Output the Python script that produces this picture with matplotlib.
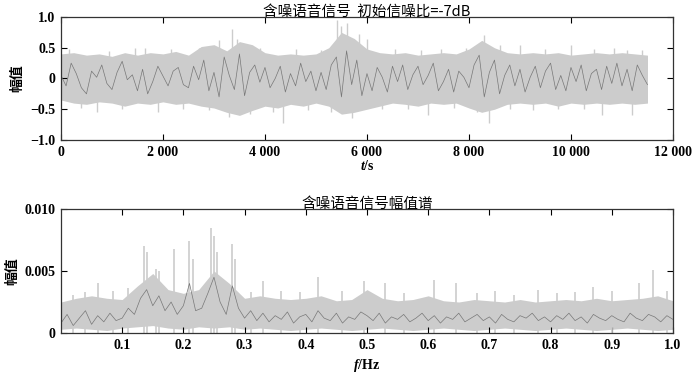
import numpy as np
import matplotlib
matplotlib.use("Agg")
import matplotlib.pyplot as plt

plt.rcParams['font.family'] = ['Liberation Serif', 'Noto Sans CJK SC', 'DejaVu Sans']
plt.rcParams['mathtext.fontset'] = 'custom'
plt.rcParams['mathtext.it'] = 'Liberation Serif:italic:bold'

# ---- top: noisy speech signal (envelope read every 250 samples) ----
t_env = np.arange(0, 11501, 250)
sig_hi = [0.40, 0.42, 0.38, 0.40, 0.36, 0.42, 0.38, 0.42, 0.40, 0.44,
          0.38, 0.52, 0.55, 0.45, 0.60, 0.55, 0.42, 0.38, 0.40, 0.38,
          0.40, 0.50, 0.75, 0.65, 0.48, 0.42, 0.40, 0.42, 0.38, 0.40,
          0.42, 0.40, 0.48, 0.62, 0.50, 0.42, 0.40, 0.42, 0.40, 0.42,
          0.38, 0.40, 0.42, 0.40, 0.42, 0.40, 0.38]
sig_lo = [-0.35, -0.40, -0.42, -0.38, -0.40, -0.45, -0.40, -0.42, -0.38, -0.42,
          -0.40, -0.45, -0.48, -0.55, -0.60, -0.52, -0.45, -0.48, -0.42, -0.45,
          -0.40, -0.45, -0.58, -0.55, -0.50, -0.45, -0.40, -0.42, -0.45, -0.40,
          -0.42, -0.40, -0.48, -0.55, -0.50, -0.42, -0.40, -0.42, -0.40, -0.45,
          -0.40, -0.42, -0.40, -0.42, -0.40, -0.42, -0.40]
# single peaks sticking out of the band
spike_t = [150, 400, 700, 950, 1200, 1450, 1650, 1900, 2150, 2400, 2700, 2900,
           3100, 3300, 3350, 3450, 3700, 3900, 4150, 4350, 4600, 4850, 5100, 5300,
           5420, 5500, 5600, 5700, 5850, 6000, 6300, 6550, 6800, 7050, 7200, 7450,
           7700, 7950, 8150, 8300, 8400, 8600, 8800, 9000, 9250, 9500, 9750, 10000,
           10250, 10450, 10600, 10850, 11100, 11200, 11400]
spike_v = [0.48, -0.48, -0.55, 0.45, -0.50, 0.50, 0.50, -0.55, 0.48, -0.50, 0.50, -0.52,
           0.62, -0.62, 0.80, 0.65, -0.58, 0.50, -0.55, -0.72, 0.48, -0.52, 0.46, -0.55,
           0.95, 0.85, 0.90, -0.65, 0.72, 0.65, -0.50, 0.48, -0.50, 0.46, -0.60, 0.48,
           -0.48, 0.50, -0.55, 0.70, -0.72, 0.55, -0.50, 0.55, -0.52, 0.48, -0.50, 0.55,
           -0.50, 0.48, -0.60, 0.50, 0.46, -0.60, 0.46]
# darker trace, every 100 samples
t_dark = np.arange(0, 11501, 100)
sig_dark = [0.05, -0.12, 0.25, 0.08, -0.15, -0.25, 0.12, 0.02, 0.22, -0.08,
            -0.18, 0.1, 0.28, -0.02, 0.06, -0.2, 0.15, -0.25, -0.05, 0.2,
            0.04, -0.12, 0.12, 0.18, -0.1, -0.15, 0.2, -0.02, 0.3, -0.2,
            0.1, -0.3, 0.35, 0.05, -0.18, 0.4, -0.28, 0.1, 0.22, -0.06,
            0.18, -0.15, 0.0, 0.2, -0.22, 0.08, -0.12, 0.25, -0.05, 0.12,
            -0.2, 0.1, -0.18, 0.22, 0.35, -0.3, 0.45, -0.1, 0.3, -0.28,
            0.08, -0.2, 0.18, 0.02, -0.22, 0.2, -0.05, 0.22, -0.18, 0.06,
            0.2, -0.1, 0.05, 0.25, -0.2, -0.05, 0.15, -0.22, 0.12, 0.02,
            -0.15, 0.22, 0.38, -0.3, 0.1, 0.3, -0.25, 0.05, 0.22, -0.12,
            0.15, -0.22, 0.02, 0.2, -0.15, 0.12, 0.25, -0.18, 0.05, -0.2,
            0.18, -0.05, 0.22, -0.2, 0.08, 0.15, -0.18, 0.2, -0.08, 0.25,
            -0.12, 0.15, -0.2, 0.22, 0.05, -0.1]

t_ticks = [0, 2000, 4000, 6000, 8000, 10000, 12000]
t_labels = ['0', '2 000', '4 000', '6 000', '8 000', '10 000', '12 000']
a_ticks = [-1.0, -0.5, 0, 0.5, 1.0]
a_labels = ['\u22121.0', '\u22120.5', '0', '0.5', '1.0']

# ---- bottom: amplitude spectrum (envelope read every 0.025) ----
f_env = np.arange(0, 1.0001, 0.025)
spec_hi = [0.0025, 0.0028, 0.0030, 0.0028, 0.0027, 0.0038, 0.0048, 0.0035, 0.0032, 0.0035,
           0.0050, 0.0040, 0.0028, 0.0030, 0.0028, 0.0027, 0.0028, 0.0030, 0.0026, 0.0027,
           0.0035, 0.0028, 0.0026, 0.0027, 0.0030, 0.0026, 0.0025, 0.0027, 0.0026, 0.0025,
           0.0027, 0.0025, 0.0026, 0.0027, 0.0026, 0.0028, 0.0026, 0.0027, 0.0028, 0.0030,
           0.0026]
spec_lo = [0.0003, 0.0004, 0.0003, 0.0002, 0.0004, 0.0005, 0.0006, 0.0004, 0.0003, 0.0005,
           0.0004, 0.0005, 0.0003, 0.0004, 0.0003, 0.0002, 0.0003, 0.0004, 0.0003, 0.0002,
           0.0003, 0.0004, 0.0003, 0.0002, 0.0003, 0.0004, 0.0003, 0.0002, 0.0003, 0.0004,
           0.0003, 0.0002, 0.0003, 0.0004, 0.0003, 0.0002, 0.0003, 0.0004, 0.0003, 0.0002,
           0.0003]
peak_f = [0.02, 0.04, 0.06, 0.085, 0.11, 0.135, 0.14, 0.155, 0.16, 0.185, 0.21, 0.215,
          0.245, 0.25, 0.255, 0.28, 0.285, 0.31, 0.33, 0.36, 0.39, 0.42, 0.46, 0.495,
          0.53, 0.56, 0.61, 0.645, 0.68, 0.71, 0.74, 0.78, 0.81, 0.84, 0.87, 0.9, 0.945,
          0.967, 0.99]
peak_v = [0.0031, 0.0033, 0.0040, 0.0034, 0.0036, 0.0070, 0.0065, 0.0052, 0.0050, 0.0068,
          0.0074, 0.0060, 0.0085, 0.0078, 0.0065, 0.0072, 0.0060, 0.0033, 0.0042, 0.0034,
          0.0033, 0.0045, 0.0034, 0.0042, 0.0040, 0.0032, 0.0043, 0.0040, 0.0032, 0.0034,
          0.0031, 0.0035, 0.0032, 0.0033, 0.0037, 0.0034, 0.0040, 0.0051, 0.0034]
f_dark = np.arange(0, 1.0001, 0.01)
spec_dark = [0.0008, 0.0015, 0.0006, 0.0012, 0.0018, 0.0007, 0.0014, 0.0009, 0.0016, 0.0010,
             0.0012, 0.0020, 0.0015, 0.0028, 0.0035, 0.0022, 0.0030, 0.0018, 0.0025, 0.0015,
             0.0022, 0.0040, 0.0018, 0.0020, 0.0032, 0.0045, 0.0025, 0.0015, 0.0038, 0.0020,
             0.0012, 0.0018, 0.0010, 0.0016, 0.0009, 0.0014, 0.0011, 0.0017, 0.0008, 0.0013,
             0.0015, 0.0009, 0.0018, 0.0012, 0.0010, 0.0016, 0.0008, 0.0013, 0.0011, 0.0017,
             0.0014, 0.0010, 0.0016, 0.0008, 0.0013, 0.0011, 0.0015, 0.0009, 0.0012, 0.0016,
             0.0010, 0.0014, 0.0008, 0.0013, 0.0011, 0.0016, 0.0009, 0.0012, 0.0015, 0.0010,
             0.0013, 0.0008, 0.0015, 0.0011, 0.0009, 0.0014, 0.0012, 0.0016, 0.0010, 0.0013,
             0.0009, 0.0014, 0.0011, 0.0016, 0.0010, 0.0013, 0.0008, 0.0015, 0.0012, 0.0010,
             0.0014, 0.0011, 0.0009, 0.0016, 0.0012, 0.0010, 0.0015, 0.0013, 0.0009, 0.0014,
             0.0011]
f_ticks = [0.1, 0.2, 0.3, 0.4, 0.5, 0.6, 0.7, 0.8, 0.9, 1.0]
f_labels = ['0.1', '0.2', '0.3', '0.4', '0.5', '0.6', '0.7', '0.8', '0.9', '1.0']
s_ticks = [0, 0.005, 0.010]
s_labels = ['0', '0.005', '0.010']

light = '#cccccc'
dark = '#777777'
cjk = ['Noto Sans CJK SC', 'DejaVu Sans']

fig = plt.figure(figsize=(7, 3.73), dpi=100)
ax1 = fig.add_axes([0.0871, 0.6247, 0.8743, 0.3297])
ax2 = fig.add_axes([0.0871, 0.1072, 0.8743, 0.3325])

ax1.fill_between(t_env, sig_lo, sig_hi, color=light, lw=0)
ax1.vlines(spike_t, 0, spike_v, color=light, lw=1.0)
ax1.plot(t_dark, sig_dark, color=dark, lw=0.5)
ax1.set_xlim(0, 12000)
ax1.set_ylim(-1, 1)
ax1.set_xticks(t_ticks, t_labels)
ax1.set_yticks(a_ticks, a_labels)
ax1.set_title('含噪语音信号  初始信噪比=-7dB', family=cjk, fontsize=10.5, pad=1)
ax1.set_xlabel('$t$/s', fontsize=10, fontweight='bold', labelpad=0)
ax1.set_ylabel('幅值', family=cjk, fontsize=10, fontweight='bold', labelpad=4)

ax2.fill_between(f_env, spec_lo, spec_hi, color=light, lw=0)
ax2.vlines(peak_f, 0, peak_v, color=light, lw=1.2)
ax2.plot(f_dark, spec_dark, color=dark, lw=0.5)
ax2.set_xlim(0, 1.0)
ax2.set_ylim(0, 0.010)
ax2.set_xticks(f_ticks, f_labels)
ax2.set_yticks(s_ticks, s_labels)
ax2.set_title('含噪语音信号幅值谱', family=cjk, fontsize=10.5, pad=1)
ax2.set_xlabel('$f$/Hz', fontsize=10, fontweight='bold', labelpad=4)
ax2.set_ylabel('幅值', family=cjk, fontsize=10, fontweight='bold', labelpad=4)

for ax in (ax1, ax2):
    ax.tick_params(direction='in', top=True, right=True, length=4, width=0.8,
                   labelsize=10, pad=4)
    for lab in ax.get_xticklabels() + ax.get_yticklabels():
        lab.set_fontweight('bold')
    for sp in ax.spines.values():
        sp.set_linewidth(0.9)
        sp.set_color('#333333')

fig.savefig('out.png', dpi=100)
